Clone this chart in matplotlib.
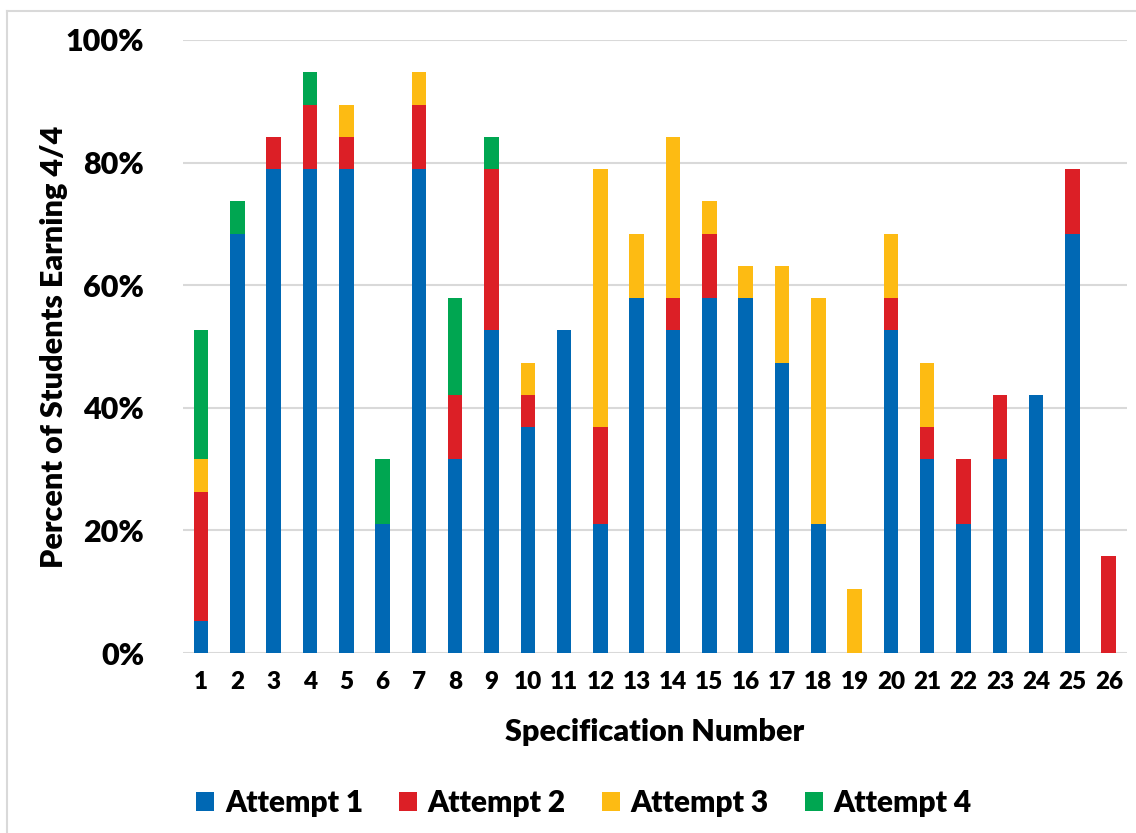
import numpy as np
import matplotlib
matplotlib.use("Agg")
import matplotlib.pyplot as plt
from matplotlib.lines import Line2D
from matplotlib.patches import Patch

plt.rcParams['font.family'] = ['Lato', 'DejaVu Sans']
plt.rcParams['font.weight'] = 'bold'

# 19 students, counts of students earning 4/4 on each attempt
n_students = 19
specs = [str(i) for i in range(1, 27)]
attempt1 = [1, 13, 15, 15, 15, 4, 15, 6, 10, 7, 10, 4, 11, 10, 11, 11, 9, 4, 0, 10, 6, 4, 6, 8, 13, 0]
attempt2 = [4, 0, 1, 2, 1, 0, 2, 2, 5, 1, 0, 3, 0, 1, 2, 0, 0, 0, 0, 1, 1, 2, 2, 0, 2, 3]
attempt3 = [1, 0, 0, 0, 1, 0, 1, 0, 0, 1, 0, 8, 2, 5, 1, 1, 3, 7, 2, 2, 2, 0, 0, 0, 0, 0]
attempt4 = [4, 1, 0, 1, 0, 2, 0, 3, 1, 0, 0, 0, 0, 0, 0, 0, 0, 0, 0, 0, 0, 0, 0, 0, 0, 0]

labels = ['Attempt 1', 'Attempt 2', 'Attempt 3', 'Attempt 4']
colors = ['#0068b4', '#dc1f26', '#fdbb13', '#00a651']

series = [np.array(a) / n_students for a in (attempt1, attempt2, attempt3, attempt4)]

fig = plt.figure(figsize=(11.36, 8.33), dpi=100)
ax = fig.add_axes([0.161, 0.216, 0.831, 0.736])

x = np.arange(len(specs))
bottom = np.zeros(len(specs))
for vals, lab, col in zip(series, labels, colors):
    ax.bar(x, vals, width=0.4, bottom=bottom, color=col, label=lab, zorder=3)
    bottom += vals

yt = np.arange(0, 1.01, 0.2)
ax.set_xlim(-0.5, len(specs) - 0.5)
ax.set_ylim(0, 1)
ax.set_yticks(yt)
ax.set_yticklabels([f'{int(round(t * 100))}%' for t in yt], fontsize=22, fontweight='heavy')
ax.set_xticks(x)
ax.set_xticklabels(specs, fontsize=17.5, fontweight='heavy')
ax.tick_params(axis='both', length=0)
ax.tick_params(axis='y', pad=28)
ax.tick_params(axis='x', pad=13)
ax.grid(axis='y', color='#d9d9d9', linewidth=1.5, zorder=0)
for s in ax.spines.values():
    s.set_visible(False)

ax.set_xlabel('Specification Number', fontsize=22, fontweight='heavy', labelpad=18)
ax.set_ylabel('Percent of Students Earning 4/4', fontsize=22, fontweight='heavy')
ax.yaxis.set_label_coords(-0.122, 0.5)

handles = [Patch(facecolor=c, edgecolor='none') for c in colors]
fig.legend(handles, labels, loc='center', bbox_to_anchor=(0.514, 0.036), ncol=4,
           frameon=False, prop={'size': 21.5, 'weight': 'heavy'}, handlelength=0.62,
           handleheight=0.62, handletextpad=0.35, columnspacing=1.2)

# light border around the chart area
fig.add_artist(Line2D([0.0062, 0.0062], [0, 0.987], color='#d9d9d9', linewidth=1.5))
fig.add_artist(Line2D([0.0062, 1], [0.987, 0.987], color='#d9d9d9', linewidth=1.5))

fig.savefig('out.png', dpi=100)
